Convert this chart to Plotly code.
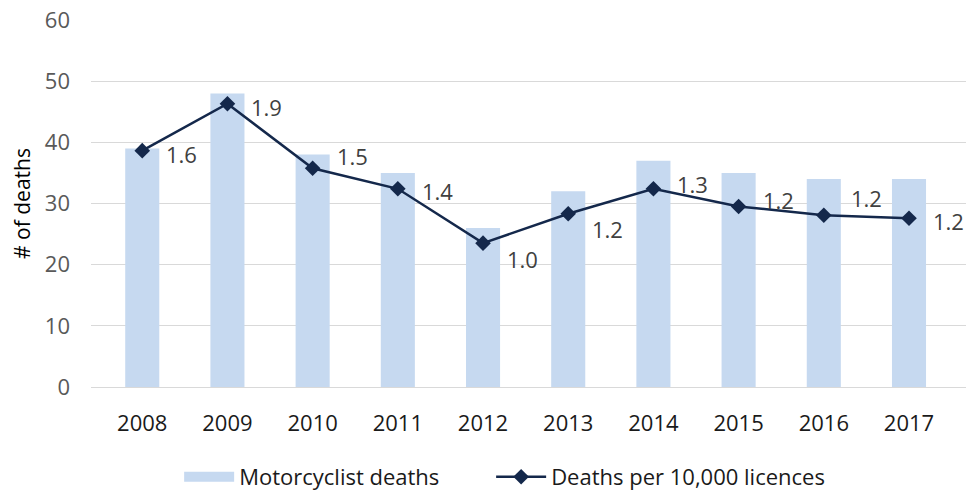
import plotly.graph_objects as go

years = ["2008", "2009", "2010", "2011", "2012", "2013", "2014", "2015", "2016", "2017"]
deaths = [39, 48, 38, 35, 26, 32, 37, 35, 34, 34]
rate = [1.61, 1.93, 1.49, 1.35, 0.98, 1.18, 1.35, 1.23, 1.17, 1.15]
rate_labels = ["1.6", "1.9", "1.5", "1.4", "1.0", "1.2", "1.3", "1.2", "1.2", "1.2"]

# label offsets (style only): shift in px (positive yshift = up)
label_yshift = [-3, -3, 12, -2, -16, -15, 5, 6, 17, -3]
label_xshift = [22, 22, 22, 22, 22, 22, 22, 22, 25, 22]

font_family = "Open Sans, Noto Sans, DejaVu Sans, sans-serif"
navy = "#14284B"
bar_color = "#C6D9F0"

fig = go.Figure()
fig.add_trace(go.Bar(
    x=years, y=deaths, name="Motorcyclist deaths",
    marker=dict(color=bar_color, line=dict(width=0)),
    yaxis="y", showlegend=False, legendgroup="bars",
))
# legend proxy giving the wide rectangular swatch of the bar series
fig.add_trace(go.Scatter(
    x=[None], y=[None], name="Motorcyclist deaths", mode="lines",
    line=dict(color=bar_color, width=15), legendgroup="bars", hoverinfo="skip",
    legend="legend",
))
fig.add_trace(go.Scatter(
    x=years, y=rate, name="Deaths per 10,000 licences",
    mode="lines+markers",
    line=dict(color=navy, width=2.5),
    marker=dict(symbol="diamond", size=12, color=navy),
    yaxis="y2", cliponaxis=False, legend="legend2",
))

annotations = []
for i, (v, t, xs, ys) in enumerate(zip(rate, rate_labels, label_xshift, label_yshift)):
    annotations.append(dict(
        x=i, y=v, xref="x", yref="y2", text=t, showarrow=False,
        xanchor="left", yanchor="middle", xshift=xs, yshift=ys,
        font=dict(size=22, color="#404040", family=font_family),
    ))

legend_common = dict(orientation="h", xref="container", yref="container",
                     xanchor="left", y=0.045, yanchor="middle",
                     font=dict(size=22, color="#1A1A1A"), itemwidth=50,
                     bgcolor="rgba(0,0,0,0)")

# page body adds an 8px offset; margins compensate so the plot lands as in the reference
fig.update_layout(
    width=978, height=491,
    margin=dict(l=83, r=20, t=12, b=112),
    plot_bgcolor="white", paper_bgcolor="white",
    font=dict(family=font_family, color="#595959"),
    bargap=0.6,
    showlegend=True,
    annotations=annotations,
    legend=dict(x=0.175, **legend_common),
    legend2=dict(x=0.494, **legend_common),
    xaxis=dict(
        type="category", automargin=False,
        tickfont=dict(size=22, color="#1A1A1A"), showgrid=False,
        showline=False, ticks="", ticklabelstandoff=21,
    ),
    yaxis=dict(
        range=[0, 60], dtick=10, showgrid=True, gridcolor="#D9D9D9", gridwidth=1,
        zeroline=True, zerolinecolor="#D9D9D9", zerolinewidth=1, automargin=False,
        tickfont=dict(size=22, color="#595959"), ticks="", ticklabelstandoff=20,
        ticklabeloverflow="allow",
        title=dict(text="# of deaths", font=dict(size=21, color="#000000"), standoff=8),
    ),
    yaxis2=dict(
        range=[0, 2.5], overlaying="y", side="right", visible=False,
    ),
)

fig.write_html("out.html", config={"displayModeBar": False})
